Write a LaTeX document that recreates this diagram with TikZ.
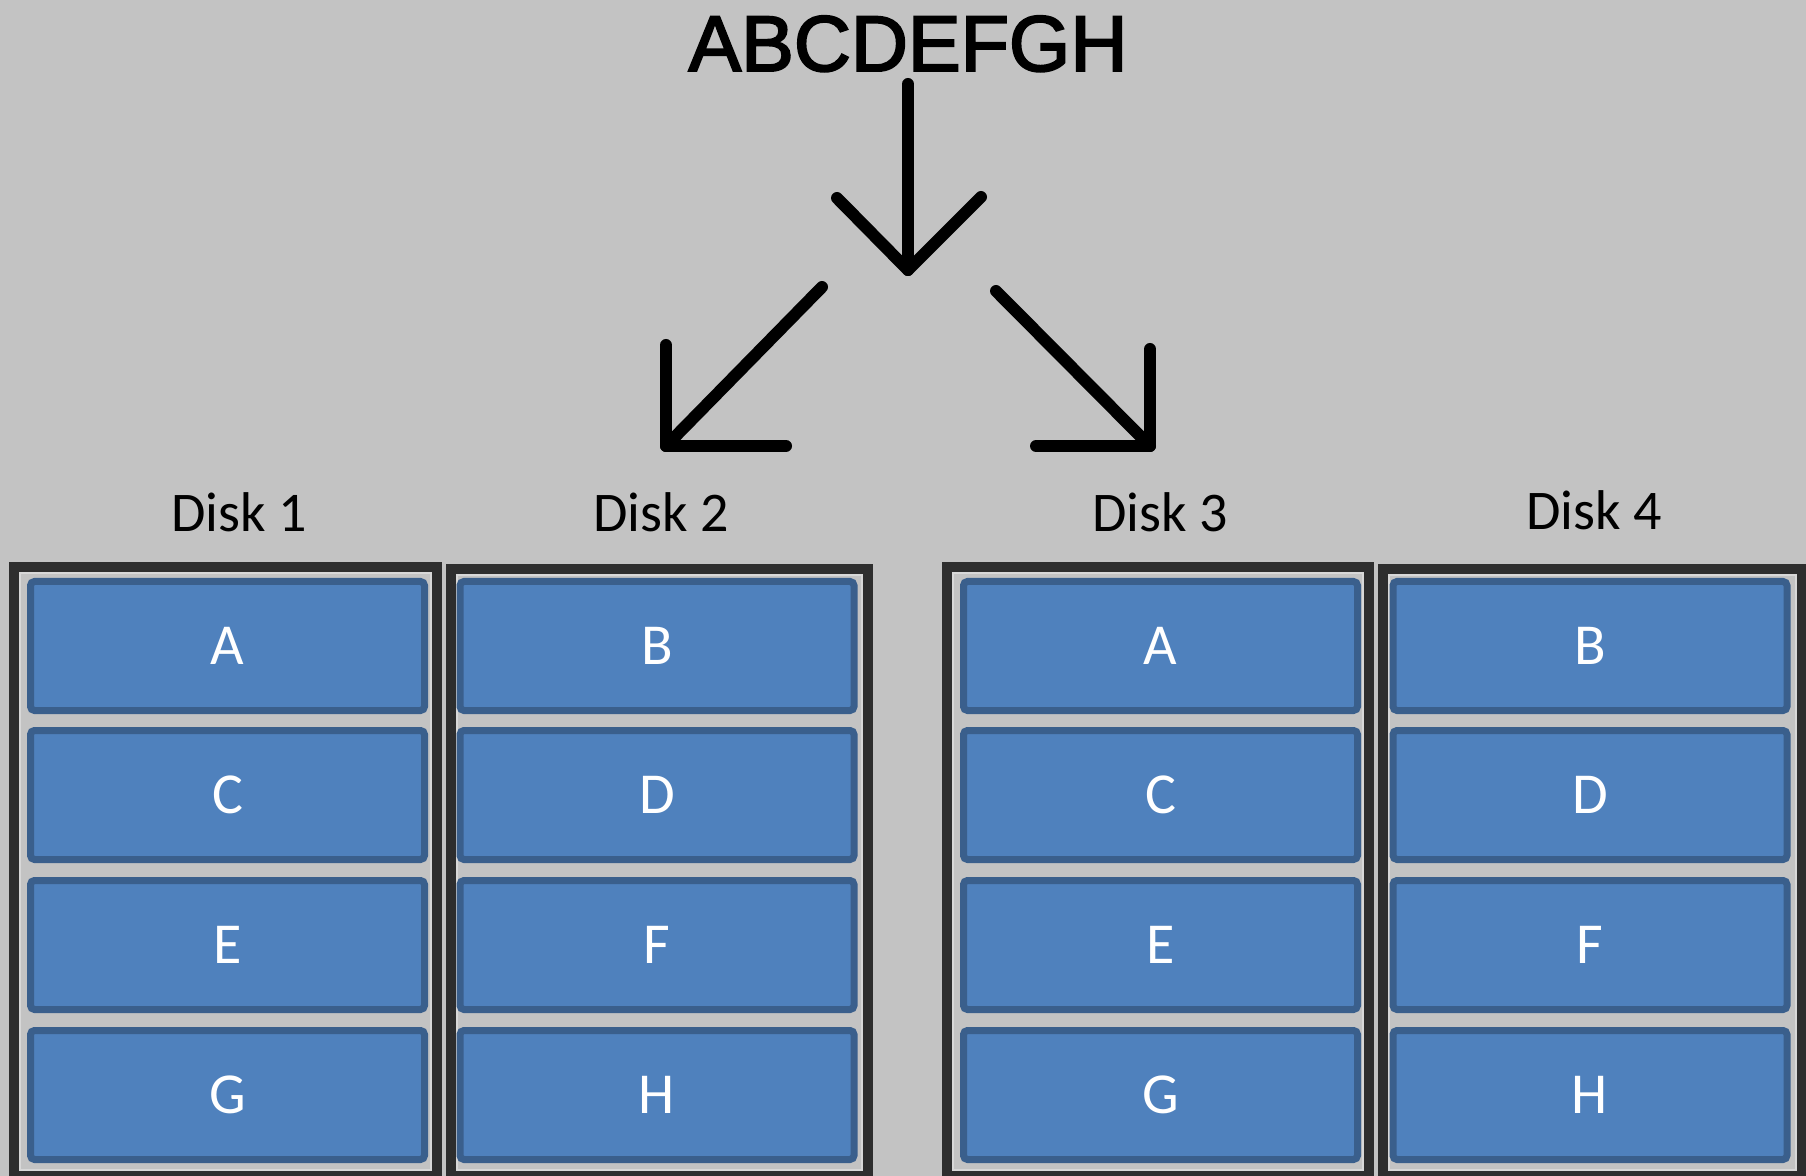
\documentclass[tikz,border=0pt]{standalone}
\usepackage{fontspec}
\setmainfont{Carlito}
\newfontfamily\arialf[FakeBold=2.5]{Liberation Sans}
\definecolor{bg}{HTML}{C3C3C3}
\definecolor{framec}{HTML}{2E2E2E}
\definecolor{ringc}{HTML}{D8D8D8}
\definecolor{blkfill}{HTML}{4F81BD}
\definecolor{blkline}{HTML}{3A5F8C}
\begin{document}
\begin{tikzpicture}[x=0.5pt,y=-0.5pt,
  blk/.style={draw=blkline, fill=blkfill, line width=3.5pt, rounded corners=2pt,
    minimum width=197pt, minimum height=64.5pt, inner sep=0pt, text=white,
    font=\fontsize{29}{30}\selectfont},
  disklbl/.style={anchor=base, inner sep=0pt, font=\fontsize{28}{30}\selectfont},
  frm/.style={draw=framec, line width=5pt},
  rng/.style={draw=ringc, line width=1pt},
  arr/.style={draw=black, line width=6pt, line cap=round, line join=round}]
\useasboundingbox (0,0) rectangle (1806,1176);
\fill[bg] (0,0) rectangle (1806,1176);
\clip (0,0) rectangle (1806,1176);

% title
\node[anchor=base, inner sep=0pt, font=\arialf\fontsize{39.5}{44}\selectfont] (src) at (908,71) {ABCDEFGH};

% arrows
\coordinate (t0) at (908,84);
\coordinate (t1) at (908,270);
\coordinate (ta) at (837,198);
\coordinate (tb) at (981,197);
\draw[arr] (t0) -- (t1);
\draw[arr] (ta) -- (t1) -- (tb);

\coordinate (l0) at (822,287);
\coordinate (l1) at (666,446);
\coordinate (la) at (666,345);
\coordinate (lb) at (786,446);
\draw[arr] (l0) -- (l1);
\draw[arr] (la) -- (l1) -- (lb);

\coordinate (r0) at (996,291);
\coordinate (r1) at (1150,446);
\coordinate (ra) at (1150,349);
\coordinate (rb) at (1036,446);
\draw[arr] (r0) -- (r1);
\draw[arr] (ra) -- (r1) -- (rb);

% disk labels
\node[disklbl] (lbl1) at (239,532) {Disk 1};
\node[disklbl] (lbl2) at (661,532) {Disk 2};
\node[disklbl] (lbl3) at (1160,532) {Disk 3};
\node[disklbl] (lbl4) at (1594,530) {Disk 4};

% frames
\draw[frm] (14,567) rectangle (437,1176);
\draw[rng] (20,573) rectangle (431,1170);
\draw[frm] (451,569) rectangle (868,1176);
\draw[rng] (457,575) rectangle (862,1170);
\draw[frm] (947,567) rectangle (1369,1176);
\draw[rng] (953,573) rectangle (1363,1170);
\draw[frm] (1383,569) rectangle (1802,1176);
\draw[rng] (1389,575) rectangle (1796,1170);

% blocks
\foreach \d/\x/\la/\lb/\lc/\ld in {1/227.5/A/C/E/G, 2/657/B/D/F/H, 3/1160.5/A/C/E/G, 4/1590/B/D/F/H}{
  \node[blk] (d\d r1) at (\x,646) {\la};
  \node[blk] (d\d r2) at (\x,795) {\lb};
  \node[blk] (d\d r3) at (\x,945) {\lc};
  \node[blk] (d\d r4) at (\x,1095) {\ld};
}
\end{tikzpicture}
\end{document}
